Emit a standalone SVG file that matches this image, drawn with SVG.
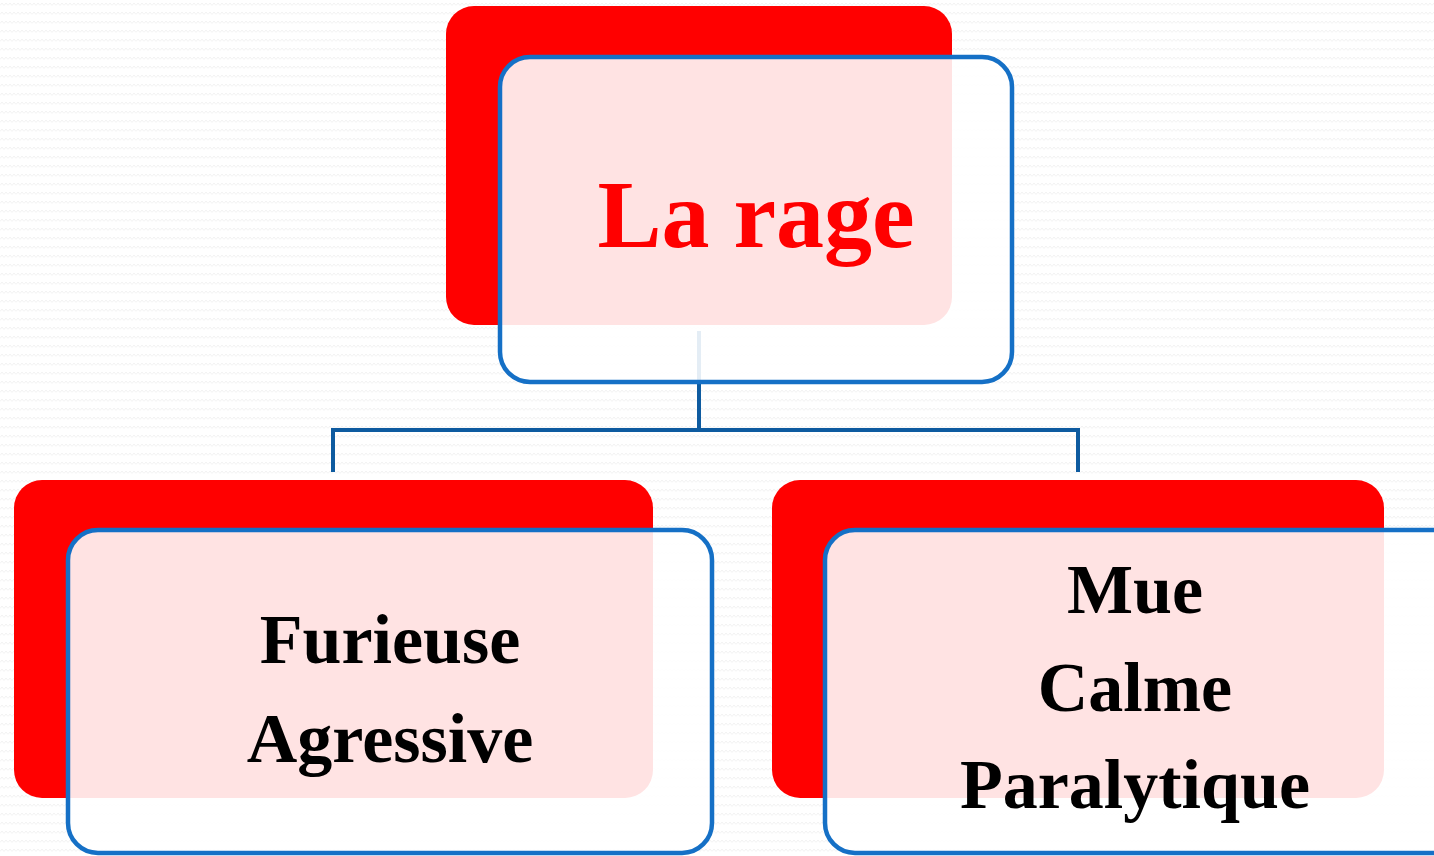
<svg xmlns="http://www.w3.org/2000/svg" width="1434" height="856" viewBox="0 0 1434 856">
<defs>
<pattern id="zz" width="8" height="9" patternUnits="userSpaceOnUse">
<polyline points="0,5.5 2,3 4,5.5 6,3 8,5.5" fill="none" stroke="#f2f2f2" stroke-width="1"/>
</pattern>
<style>
.back{fill:#ff0000}
.front{fill:#ffffff;fill-opacity:0.89;stroke:#1570c6;stroke-width:4.5}
.conn{fill:none;stroke:#0e5ba0;stroke-width:4}
.lbl{font-family:"Liberation Serif",serif;font-weight:bold;text-anchor:middle;fill:#000}
</style>
</defs>
<rect width="1434" height="856" fill="#ffffff"/>
<rect width="1434" height="856" fill="url(#zz)"/>
<g id="connectors">
<polyline class="conn" points="699,331 699,430"/>
<polyline class="conn" points="333,472 333,430 1078,430 1078,472"/>
</g>
<g id="node-root">
<rect class="back" x="446" y="6" width="506" height="319" rx="28"/>
<rect class="front" x="500" y="57" width="512" height="325" rx="30"/>
<text class="lbl" x="756" y="247" font-size="96" style="fill:#ff0000">La rage</text>
</g>
<g id="node-furieuse">
<rect class="back" x="14" y="480" width="639" height="318" rx="28"/>
<rect class="front" x="68" y="530" width="644" height="323" rx="30"/>
<text class="lbl" x="390" y="663" font-size="70">Furieuse</text>
<text class="lbl" x="390" y="762" font-size="70">Agressive</text>
</g>
<g id="node-mue">
<rect class="back" x="772" y="480" width="612" height="318" rx="28"/>
<rect class="front" x="825" y="530" width="640" height="323" rx="30"/>
<text class="lbl" x="1135" y="613" font-size="70">Mue</text>
<text class="lbl" x="1135" y="711" font-size="70">Calme</text>
<text class="lbl" x="1135" y="808" font-size="70">Paralytique</text>
</g>
</svg>
